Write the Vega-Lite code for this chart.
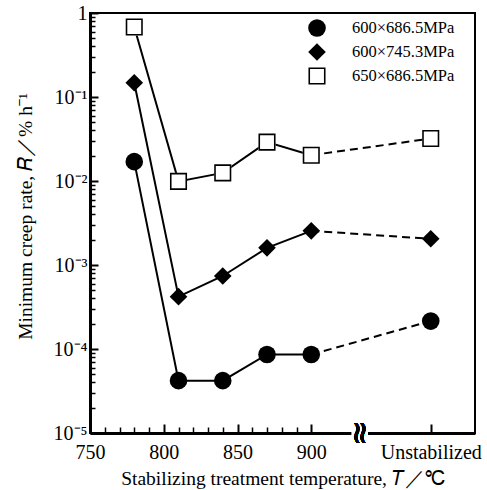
{
  "$schema": "https://vega.github.io/schema/vega-lite/v6.json",
  "width": 385,
  "height": 420,
  "autosize": "none",
  "padding": {"left": 90, "top": 13, "right": 12, "bottom": 57},
  "background": "white",
  "config": {
    "view": {"stroke": "black", "strokeWidth": 2},
    "font": "Liberation Serif",
    "axis": {
      "domainColor": "black", "domainWidth": 3,
      "tickColor": "black", "tickWidth": 1.5,
      "labelColor": "black", "titleColor": "black",
      "labelFont": "Liberation Serif", "titleFont": "Liberation Serif",
      "labelFontSize": 20, "titleFontSize": 19.5, "titleFontWeight": "normal",
      "grid": false
    }
  },
  "datasets": {
    "pts": [
      {"series": "600×686.5MPa", "T": 780, "R": 0.017},
      {"series": "600×686.5MPa", "T": 810, "R": 0.000042},
      {"series": "600×686.5MPa", "T": 840, "R": 0.000042},
      {"series": "600×686.5MPa", "T": 870, "R": 0.000086},
      {"series": "600×686.5MPa", "T": 900, "R": 0.000086},
      {"series": "600×686.5MPa", "T": 981, "R": 0.000215},
      {"series": "600×745.3MPa", "T": 780, "R": 0.148},
      {"series": "600×745.3MPa", "T": 810, "R": 0.00042},
      {"series": "600×745.3MPa", "T": 840, "R": 0.00074},
      {"series": "600×745.3MPa", "T": 870, "R": 0.0016},
      {"series": "600×745.3MPa", "T": 900, "R": 0.00255},
      {"series": "600×745.3MPa", "T": 981, "R": 0.00205},
      {"series": "650×686.5MPa", "T": 780, "R": 0.68},
      {"series": "650×686.5MPa", "T": 810, "R": 0.0099},
      {"series": "650×686.5MPa", "T": 840, "R": 0.0125},
      {"series": "650×686.5MPa", "T": 870, "R": 0.029},
      {"series": "650×686.5MPa", "T": 900, "R": 0.0203},
      {"series": "650×686.5MPa", "T": 981, "R": 0.032}
    ]
  },
  "data": {"name": "pts"},
  "resolve": {"axis": {"x": "independent", "y": "independent"}},
  "layer": [
    {
      "transform": [{"filter": "datum.T <= 900"}],
      "mark": {"type": "line", "color": "black", "strokeWidth": 2},
      "encoding": {
        "x": {
          "field": "T", "type": "quantitative",
          "scale": {"domain": [750, 1011], "nice": false, "zero": false},
          "axis": {
            "orient": "bottom",
            "values": [750, 800, 850, 900, 981],
            "ticks": false, "labelPadding": 9,
            "labelExpr": "datum.value > 950 ? 'Unstabilized' : datum.label",
            "labelFlush": false, "labelOverlap": false,
            "title": "Stabilizing treatment temperature, 𝑇／℃",
            "titleY": 51, "titleBaseline": "alphabetic"
          }
        },
        "y": {
          "field": "R", "type": "quantitative",
          "scale": {"type": "log", "domain": [0.00001, 1], "nice": false},
          "axis": {
            "orient": "left",
            "values": [0.00001, 0.0001, 0.001, 0.01, 0.1, 1],
            "ticks": false, "labelPadding": 3,
            "labelExpr": "datum.value > 0.5 ? '1' : datum.value > 0.05 ? '10⁻¹' : datum.value > 0.005 ? '10⁻²' : datum.value > 0.0005 ? '10⁻³' : datum.value > 0.00005 ? '10⁻⁴' : '10⁻⁵'",
            "labelFlush": false, "labelOverlap": false,
            "title": "Minimum creep rate, 𝑅／% h⁻¹",
            "titleX": -59, "titleY": 203, "titleAngle": -90,
            "titleAlign": "center", "titleBaseline": "alphabetic"
          }
        },
        "detail": {"field": "series"}
      }
    },
    {
      "transform": [{"filter": "datum.T >= 900"}],
      "mark": {"type": "line", "color": "black", "strokeWidth": 2, "strokeDash": [8, 5]},
      "encoding": {
        "x": {
          "field": "T", "type": "quantitative",
          "axis": {
            "orient": "bottom", "domain": false, "labels": false, "title": null,
            "values": [750, 800, 850, 900, 981],
            "tickSize": -9, "tickWidth": 2
          }
        },
        "y": {
          "field": "R", "type": "quantitative",
          "axis": {
            "orient": "left", "domain": false, "labels": false, "title": null,
            "values": [0.00001, 0.0001, 0.001, 0.01, 0.1, 1],
            "tickSize": -8, "tickWidth": 2
          }
        },
        "detail": {"field": "series"}
      }
    },
    {
      "transform": [{"filter": "datum.series == '650×686.5MPa'"}],
      "mark": {"type": "point", "shape": "square", "filled": true, "color": "white", "opacity": 1, "size": 289},
      "encoding": {
        "x": {
          "field": "T", "type": "quantitative",
          "axis": {
            "orient": "bottom", "domain": false, "labels": false, "title": null,
            "values": [760, 770, 780, 790, 810, 820, 830, 840, 860, 870, 880, 890],
            "tickSize": -6, "tickWidth": 1.5
          }
        },
        "y": {
          "field": "R", "type": "quantitative",
          "axis": {
            "orient": "left", "domain": false, "labels": false, "title": null,
            "values": [0.00002, 0.00003, 0.00004, 0.00005, 0.00006, 0.00007, 0.00008, 0.00009,
                       0.0002, 0.0003, 0.0004, 0.0005, 0.0006, 0.0007, 0.0008, 0.0009,
                       0.002, 0.003, 0.004, 0.005, 0.006, 0.007, 0.008, 0.009,
                       0.02, 0.03, 0.04, 0.05, 0.06, 0.07, 0.08, 0.09,
                       0.2, 0.3, 0.4, 0.5, 0.6, 0.7, 0.8, 0.9],
            "tickSize": -5, "tickWidth": 1.5
          }
        }
      }
    },
    {
      "mark": {"type": "point", "filled": true, "color": "black", "opacity": 1, "size": 310},
      "encoding": {
        "x": {"field": "T", "type": "quantitative", "axis": null},
        "y": {"field": "R", "type": "quantitative", "axis": null},
        "shape": {
          "field": "series", "type": "nominal",
          "scale": {
            "domain": ["600×686.5MPa", "600×745.3MPa", "650×686.5MPa"],
            "range": ["circle", "diamond", "M-0.97,-0.97H0.97V0.97H-0.97Z M-0.79,-0.79V0.79H0.79V-0.79Z"]
          },
          "legend": {
            "orient": "none", "legendX": 218, "legendY": 6, "title": null, "padding": 0,
            "labelFont": "Liberation Serif", "labelFontSize": 16.5, "labelColor": "black",
            "symbolSize": 310, "symbolFillColor": "black", "symbolStrokeWidth": 0,
            "labelOffset": 26, "rowPadding": 6
          }
        }
      }
    },
    {
      "mark": {"type": "square", "color": "white", "opacity": 1, "size": 256},
      "encoding": {
        "x": {"datum": 933, "type": "quantitative", "axis": null},
        "y": {"datum": 0.00001, "type": "quantitative", "axis": null}
      }
    },
    {
      "mark": {"type": "text", "text": "≈", "angle": 90, "fontSize": 32, "font": "DejaVu Serif", "align": "center", "baseline": "middle", "color": "black"},
      "encoding": {
        "x": {"datum": 933, "type": "quantitative", "axis": null},
        "y": {"datum": 0.00001, "type": "quantitative", "axis": null}
      }
    }
  ]
}
